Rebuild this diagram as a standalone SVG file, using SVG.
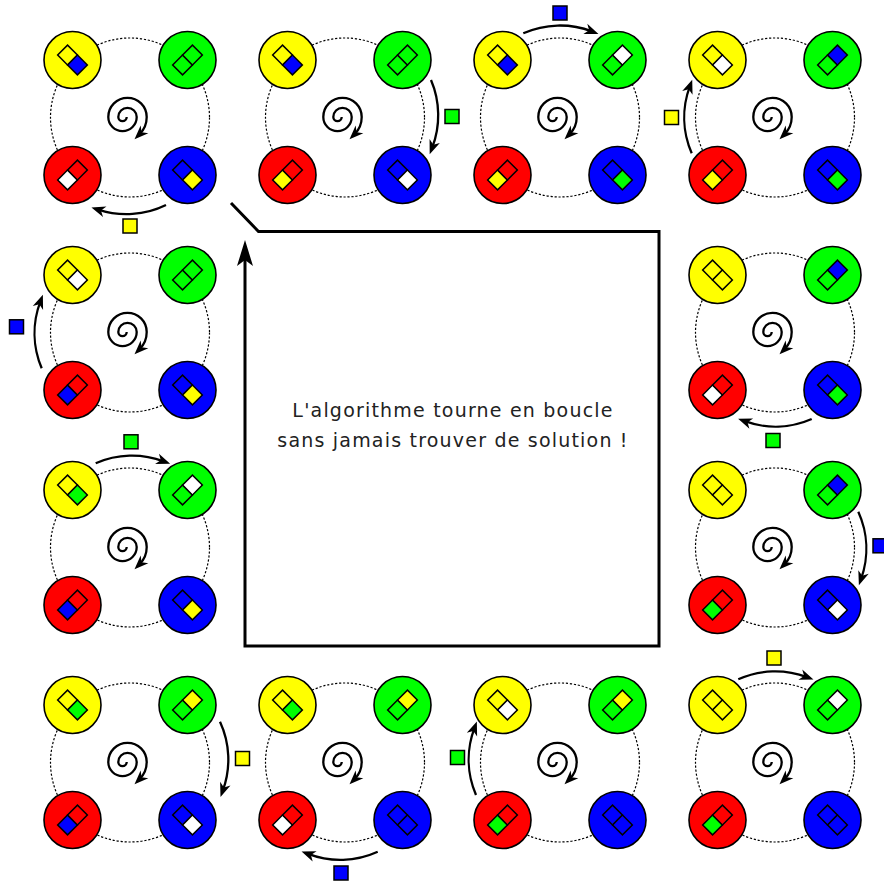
<svg xmlns="http://www.w3.org/2000/svg" xmlns:xlink="http://www.w3.org/1999/xlink" width="884" height="881" viewBox="0 0 884 881">
<style>
.dot{fill:none;stroke:#000;stroke-width:1.2;stroke-dasharray:2.2 1.8}
.big{stroke:#000;stroke-width:1.6}
.y{fill:#ff0}.g{fill:#0f0}.r{fill:#f00}.b{fill:#00f}.w{fill:#fff}
.arr{fill:none;stroke:#000;stroke-width:2.3;marker-end:url(#ah)}
.spiral{fill:none;stroke:#000;stroke-width:2.3;marker-end:url(#ah)}
.lbl{stroke:#000;stroke-width:1.5}
.box{fill:none;stroke:#000;stroke-width:3;stroke-linejoin:miter;marker-end:url(#bh)}
.txt{font-family:"DejaVu Sans",sans-serif;font-size:19px;letter-spacing:1.2px;fill:#222;text-anchor:middle}
</style>
<defs>
<marker id="ah" markerUnits="userSpaceOnUse" viewBox="-15 -7 16 14" markerWidth="16" markerHeight="14" refX="-7" refY="0" orient="auto" overflow="visible">
<path d="M0,0 L-14,-5.5 L-10,0 L-14,5.5 Z" fill="#000"/>
</marker>
<marker id="bh" markerUnits="userSpaceOnUse" viewBox="-28 -9 29 18" markerWidth="29" markerHeight="18" refX="-18" refY="0" orient="auto" overflow="visible">
<path d="M0,0 L-26,-8 L-20,0 L-26,8 Z" fill="#000"/>
</marker>
<rect id="L" x="-14" y="-7" width="14" height="14" stroke="#000" stroke-width="1.5"/>
<rect id="R" x="0" y="-7" width="14" height="14" stroke="#000" stroke-width="1.5"/>
<g id="base">
<circle class="dot" cx="130" cy="117.5" r="79.5"/>
<path class="spiral" d="M126.7,117 A4.2,4.2 0 0 1 118.3,117 A9.2,9.2 0 0 1 136.7,117 A14.2,14.2 0 0 1 108.3,117 A19.2,19.2 0 0 1 146.7,117 A24.2,24.2 0 0 1 139.5,134.3"/>
<circle class="big y" cx="72.5" cy="60" r="28.5"/>
<circle class="big g" cx="187.5" cy="60" r="28.5"/>
<circle class="big r" cx="72.5" cy="175" r="28.5"/>
<circle class="big b" cx="187.5" cy="175" r="28.5"/>
</g>
</defs>
<rect width="884" height="881" fill="#fff"/>

<g id="panel-1" transform="translate(0,0)"><use href="#base"/>
<g transform="translate(72.5,60) rotate(45)"><use href="#L" class="y"/><use href="#R" class="b"/></g>
<g transform="translate(187.5,60) rotate(-45)"><use href="#L" class="g"/><use href="#R" class="g"/></g>
<g transform="translate(72.5,175) rotate(-45)"><use href="#L" class="w"/><use href="#R" class="r"/></g>
<g transform="translate(187.5,175) rotate(45)"><use href="#L" class="b"/><use href="#R" class="y"/></g>
</g>
<g id="panel-2" transform="translate(215,0)"><use href="#base"/>
<g transform="translate(72.5,60) rotate(45)"><use href="#L" class="y"/><use href="#R" class="b"/></g>
<g transform="translate(187.5,60) rotate(-45)"><use href="#L" class="g"/><use href="#R" class="g"/></g>
<g transform="translate(72.5,175) rotate(-45)"><use href="#L" class="y"/><use href="#R" class="r"/></g>
<g transform="translate(187.5,175) rotate(45)"><use href="#L" class="b"/><use href="#R" class="w"/></g>
</g>
<g id="panel-3" transform="translate(430,0)"><use href="#base"/>
<g transform="translate(72.5,60) rotate(45)"><use href="#L" class="y"/><use href="#R" class="b"/></g>
<g transform="translate(187.5,60) rotate(-45)"><use href="#L" class="g"/><use href="#R" class="w"/></g>
<g transform="translate(72.5,175) rotate(-45)"><use href="#L" class="y"/><use href="#R" class="r"/></g>
<g transform="translate(187.5,175) rotate(45)"><use href="#L" class="b"/><use href="#R" class="g"/></g>
</g>
<g id="panel-4" transform="translate(645,0)"><use href="#base"/>
<g transform="translate(72.5,60) rotate(45)"><use href="#L" class="y"/><use href="#R" class="w"/></g>
<g transform="translate(187.5,60) rotate(-45)"><use href="#L" class="g"/><use href="#R" class="b"/></g>
<g transform="translate(72.5,175) rotate(-45)"><use href="#L" class="y"/><use href="#R" class="r"/></g>
<g transform="translate(187.5,175) rotate(45)"><use href="#L" class="b"/><use href="#R" class="g"/></g>
</g>
<g id="panel-5" transform="translate(645,215)"><use href="#base"/>
<g transform="translate(72.5,60) rotate(45)"><use href="#L" class="y"/><use href="#R" class="y"/></g>
<g transform="translate(187.5,60) rotate(-45)"><use href="#L" class="g"/><use href="#R" class="b"/></g>
<g transform="translate(72.5,175) rotate(-45)"><use href="#L" class="w"/><use href="#R" class="r"/></g>
<g transform="translate(187.5,175) rotate(45)"><use href="#L" class="b"/><use href="#R" class="g"/></g>
</g>
<g id="panel-6" transform="translate(645,430)"><use href="#base"/>
<g transform="translate(72.5,60) rotate(45)"><use href="#L" class="y"/><use href="#R" class="y"/></g>
<g transform="translate(187.5,60) rotate(-45)"><use href="#L" class="g"/><use href="#R" class="b"/></g>
<g transform="translate(72.5,175) rotate(-45)"><use href="#L" class="g"/><use href="#R" class="r"/></g>
<g transform="translate(187.5,175) rotate(45)"><use href="#L" class="b"/><use href="#R" class="w"/></g>
</g>
<g id="panel-7" transform="translate(645,645)"><use href="#base"/>
<g transform="translate(72.5,60) rotate(45)"><use href="#L" class="y"/><use href="#R" class="y"/></g>
<g transform="translate(187.5,60) rotate(-45)"><use href="#L" class="g"/><use href="#R" class="w"/></g>
<g transform="translate(72.5,175) rotate(-45)"><use href="#L" class="g"/><use href="#R" class="r"/></g>
<g transform="translate(187.5,175) rotate(45)"><use href="#L" class="b"/><use href="#R" class="b"/></g>
</g>
<g id="panel-8" transform="translate(430,645)"><use href="#base"/>
<g transform="translate(72.5,60) rotate(45)"><use href="#L" class="y"/><use href="#R" class="w"/></g>
<g transform="translate(187.5,60) rotate(-45)"><use href="#L" class="g"/><use href="#R" class="y"/></g>
<g transform="translate(72.5,175) rotate(-45)"><use href="#L" class="g"/><use href="#R" class="r"/></g>
<g transform="translate(187.5,175) rotate(45)"><use href="#L" class="b"/><use href="#R" class="b"/></g>
</g>
<g id="panel-9" transform="translate(215,645)"><use href="#base"/>
<g transform="translate(72.5,60) rotate(45)"><use href="#L" class="y"/><use href="#R" class="g"/></g>
<g transform="translate(187.5,60) rotate(-45)"><use href="#L" class="g"/><use href="#R" class="y"/></g>
<g transform="translate(72.5,175) rotate(-45)"><use href="#L" class="w"/><use href="#R" class="r"/></g>
<g transform="translate(187.5,175) rotate(45)"><use href="#L" class="b"/><use href="#R" class="b"/></g>
</g>
<g id="panel-10" transform="translate(0,645)"><use href="#base"/>
<g transform="translate(72.5,60) rotate(45)"><use href="#L" class="y"/><use href="#R" class="g"/></g>
<g transform="translate(187.5,60) rotate(-45)"><use href="#L" class="g"/><use href="#R" class="y"/></g>
<g transform="translate(72.5,175) rotate(-45)"><use href="#L" class="b"/><use href="#R" class="r"/></g>
<g transform="translate(187.5,175) rotate(45)"><use href="#L" class="b"/><use href="#R" class="w"/></g>
</g>
<g id="panel-11" transform="translate(0,430)"><use href="#base"/>
<g transform="translate(72.5,60) rotate(45)"><use href="#L" class="y"/><use href="#R" class="g"/></g>
<g transform="translate(187.5,60) rotate(-45)"><use href="#L" class="g"/><use href="#R" class="w"/></g>
<g transform="translate(72.5,175) rotate(-45)"><use href="#L" class="b"/><use href="#R" class="r"/></g>
<g transform="translate(187.5,175) rotate(45)"><use href="#L" class="b"/><use href="#R" class="y"/></g>
</g>
<g id="panel-12" transform="translate(0,215)"><use href="#base"/>
<g transform="translate(72.5,60) rotate(45)"><use href="#L" class="y"/><use href="#R" class="w"/></g>
<g transform="translate(187.5,60) rotate(-45)"><use href="#L" class="g"/><use href="#R" class="g"/></g>
<g transform="translate(72.5,175) rotate(-45)"><use href="#L" class="b"/><use href="#R" class="r"/></g>
<g transform="translate(187.5,175) rotate(45)"><use href="#L" class="b"/><use href="#R" class="y"/></g>
</g>

<g id="connectors">
<path class="arr" d="M166,205 A90,90 0 0 1 98.1,209.6"/>
<path class="arr" d="M431,80 A90,90 0 0 1 432.2,147.6"/>
<path class="arr" d="M523.3,33.3 A90,90 0 0 1 591.9,31.4"/>
<path class="arr" d="M691.7,153.3 A90,90 0 0 1 689.8,86.4"/>
<path class="arr" d="M811.7,419 A90,90 0 0 1 744.7,421.2"/>
<path class="arr" d="M858.3,511.7 A90,90 0 0 1 861.2,578.6"/>
<path class="arr" d="M738.3,679.3 A90,90 0 0 1 806.9,677.1"/>
<path class="arr" d="M476,795 A90,90 0 0 1 474.4,728.1"/>
<path class="arr" d="M377.7,851.7 A90,90 0 0 1 308.1,853.9"/>
<path class="arr" d="M220,721.7 A90,90 0 0 1 222.9,790.3"/>
<path class="arr" d="M95.7,463.3 A90,90 0 0 1 163.6,461.4"/>
<path class="arr" d="M41.7,368.3 A90,90 0 0 1 40.4,301.4"/>
<rect class="lbl y" x="123" y="219" width="14" height="14"/>
<rect class="lbl g" x="445" y="109.5" width="14" height="14"/>
<rect class="lbl b" x="553" y="6" width="14" height="14"/>
<rect class="lbl y" x="664.5" y="110.5" width="14" height="14"/>
<rect class="lbl g" x="766" y="433.5" width="14" height="14"/>
<rect class="lbl b" x="873" y="538.8" width="14" height="14"/>
<rect class="lbl y" x="767" y="651" width="14" height="14"/>
<rect class="lbl g" x="450.5" y="750.5" width="14" height="14"/>
<rect class="lbl b" x="334" y="866" width="14" height="14"/>
<rect class="lbl y" x="235.5" y="751.5" width="14" height="14"/>
<rect class="lbl g" x="124" y="434.8" width="14" height="14"/>
<rect class="lbl b" x="9.5" y="319.8" width="14" height="14"/>
<path class="box" d="M231,203 L258.5,231.5 L659,231.5 L659,646 L245,646 L245,258"/>
</g>

<g id="caption">
<text class="txt" x="453" y="417">L'algorithme tourne en boucle</text>
<text class="txt" x="453" y="447">sans jamais trouver de solution !</text>
</g>
</svg>
